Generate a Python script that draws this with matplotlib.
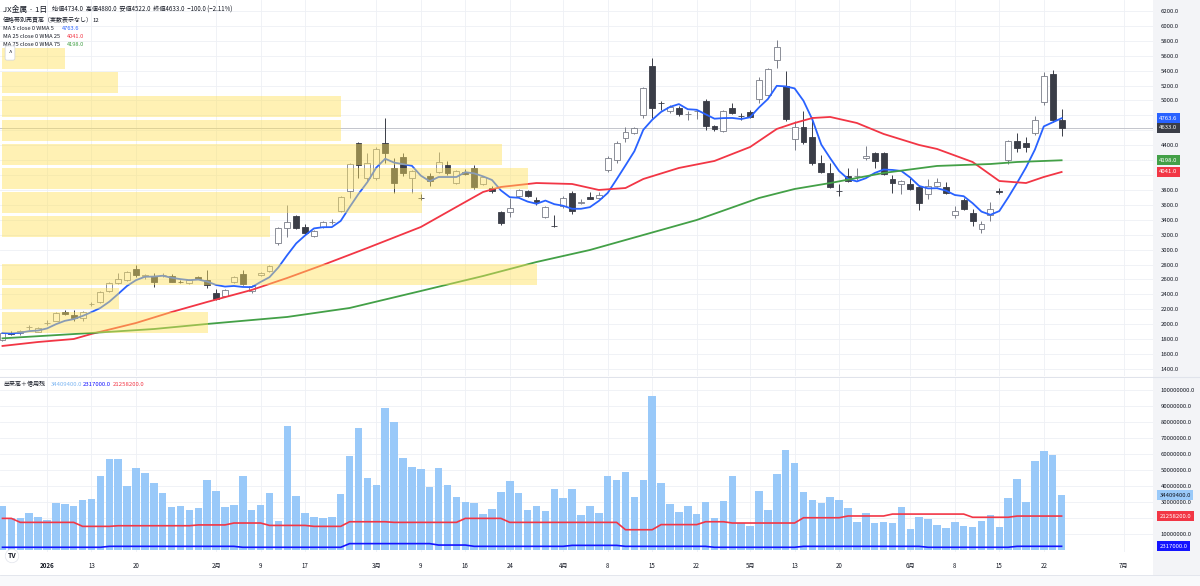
import numpy as np
import matplotlib
matplotlib.use("Agg")
import matplotlib.pyplot as plt
from matplotlib import transforms
from matplotlib.patches import Rectangle
import pandas as pd

plt.rcParams['font.family'] = ['Noto Sans CJK JP', 'DejaVu Sans']

# ---------------- data ----------------
opens = [1790, 1880, 1875, 1960, 1900, 2012, 2045, 2163, 2120, 2083,
         2265, 2298, 2445, 2553, 2593, 2740, 2640, 2647, 2655, 2650,
         2570, 2553, 2633, 2593, 2418, 2378, 2566, 2673, 2445, 2660,
         2714, 3089, 3290, 3450, 3303, 3183, 3303, 3365, 3518, 3786,
         4430, 3960, 3960, 4430, 4095, 4242, 3960, 3695, 3987, 4041,
         4135, 3893, 4041, 4095, 3880, 3826, 3504, 3504, 3719, 3786,
         3665, 3437, 3320, 3585, 3759, 3630, 3705, 3692, 4068, 4202,
         4497, 4564, 4805, 5462, 4970, 4859, 4899, 4815, 4855, 4993,
         4658, 4591, 4899, 4795, 4846, 5020, 5074, 5543, 5194, 4484,
         4644, 4510, 4162, 4028, 3790, 3987, 3985, 4229, 4296, 4296,
         3947, 3880, 3880, 3840, 3746, 3853, 3840, 3464, 3665, 3491,
         3276, 3464, 3780, 4202, 4457, 4430, 4564, 4980, 5355, 4734]
highs = [1895, 1905, 1925, 1990, 1960, 2055, 2160, 2190, 2190, 2175,
         2300, 2445, 2560, 2687, 2710, 2793, 2675, 2687, 2685, 2670,
         2595, 2610, 2650, 2727, 2470, 2475, 2645, 2727, 2525, 2705,
         2800, 3303, 3598, 3464, 3343, 3263, 3384, 3410, 3719, 4162,
         4443, 4296, 4376, 4765, 4229, 4296, 4068, 3740, 4028, 4309,
         4189, 4068, 4082, 4135, 3990, 3853, 3518, 3692, 3813, 3800,
         3700, 3590, 3464, 3719, 3780, 3678, 3773, 3773, 4256, 4457,
         4644, 4644, 5180, 5569, 4993, 4940, 4926, 4859, 4872, 5020,
         4671, 4872, 4966, 4832, 4872, 5314, 5436, 5811, 5395, 4725,
         4859, 4778, 4269, 4162, 3880, 4095, 4095, 4390, 4305, 4310,
         4000, 3933, 3960, 3870, 3947, 3960, 3907, 3585, 3692, 3545,
         3384, 3638, 3826, 4470, 4564, 4510, 4792, 5382, 5410, 4880]
lows = [1770, 1850, 1860, 1925, 1890, 1995, 2040, 2125, 2045, 2040,
        2240, 2290, 2430, 2540, 2585, 2633, 2610, 2500, 2630, 2560,
        2550, 2540, 2600, 2486, 2320, 2360, 2550, 2520, 2420, 2640,
        2700, 3063, 3170, 3276, 3200, 3170, 3290, 3343, 3504, 3692,
        3960, 3920, 3930, 4162, 3760, 3987, 3760, 3660, 3853, 4028,
        4000, 3880, 4000, 3813, 3860, 3760, 3330, 3437, 3700, 3700,
        3600, 3420, 3300, 3560, 3477, 3610, 3680, 3680, 4041, 4162,
        4443, 4550, 4765, 4765, 4870, 4832, 4792, 4738, 4752, 4604,
        4590, 4577, 4819, 4738, 4765, 4966, 5060, 5436, 4725, 4336,
        4416, 4135, 4028, 3826, 3719, 3907, 3933, 4202, 4095, 4000,
        3760, 3746, 3800, 3530, 3678, 3840, 3746, 3420, 3530, 3317,
        3223, 3384, 3740, 4148, 4310, 4310, 4537, 4940, 4712, 4522]
closes = [1882, 1868, 1910, 1966, 1950, 2020, 2150, 2137, 2083, 2163,
          2275, 2432, 2553, 2606, 2700, 2660, 2660, 2566, 2662, 2566,
          2566, 2593, 2606, 2526, 2338, 2459, 2633, 2539, 2512, 2687,
          2780, 3290, 3370, 3290, 3223, 3250, 3370, 3375, 3705, 4148,
          4135, 4162, 4350, 4296, 3893, 4028, 4055, 3690, 3920, 4175,
          4028, 4055, 4014, 3840, 3974, 3786, 3357, 3558, 3800, 3719,
          3640, 3571, 3317, 3692, 3518, 3640, 3680, 3732, 4229, 4430,
          4577, 4631, 5167, 4899, 4960, 4913, 4819, 4822, 4862, 4658,
          4617, 4859, 4832, 4790, 4778, 5275, 5422, 5717, 4752, 4644,
          4443, 4162, 4041, 3840, 3782, 3920, 3990, 4256, 4189, 4014,
          3893, 3920, 3813, 3625, 3853, 3907, 3759, 3518, 3544, 3384,
          3343, 3544, 3770, 4457, 4363, 4376, 4738, 5328, 4733, 4633]

# volume in millions of shares
volume_m = [27.6, 20.2, 20.2, 23.4, 20.7, 18.6, 29.4, 28.6, 27.8, 31.3,
            31.7, 46.5, 57.2, 57.2, 40.3, 51.1, 48.0, 41.7, 35.7, 26.7,
            27.6, 24.8, 26.3, 43.8, 36.9, 26.9, 28.2, 46.5, 25.0, 28.2,
            35.5, 18.0, 77.6, 33.6, 23.0, 20.7, 20.0, 20.5, 35.1, 58.7,
            76.4, 45.1, 40.7, 89.1, 79.9, 57.6, 52.0, 50.7, 39.4, 51.3,
            40.7, 33.2, 30.1, 29.2, 22.5, 25.7, 36.1, 43.2, 35.7, 25.0,
            27.6, 24.4, 38.2, 32.8, 38.4, 21.9, 27.3, 23.2, 46.5, 43.6,
            48.8, 33.0, 43.8, 96.4, 42.0, 29.0, 23.8, 27.3, 22.8, 30.3,
            20.0, 30.7, 46.3, 17.1, 15.0, 36.7, 25.0, 47.8, 62.4, 54.5,
            36.5, 31.5, 29.6, 33.2, 31.1, 26.3, 17.3, 23.2, 16.9, 17.5,
            16.9, 26.7, 13.4, 20.5, 19.4, 15.7, 13.8, 17.3, 15.0, 14.6,
            18.4, 21.7, 14.6, 32.8, 44.5, 30.3, 55.9, 62.2, 59.3, 34.4094]

# margin balances (millions), weekly values with the bar where each starts
buy_start = [0, 2, 9, 13, 22, 26, 30, 35, 39, 44, 52, 57, 70, 74, 79, 82, 90, 95, 100, 109, 114]
buy_val = [19.8, 17.3, 14.8, 15.2, 15.7, 16.9, 15.4, 14.8, 17.7, 17.3, 19.8, 17.3,
           12.7, 15.9, 17.7, 16.9, 20.2, 21.3, 22.5, 20.5, 21.2582]
sell_start = [0, 12, 27, 39, 49, 53, 64, 70, 80, 90, 104, 114]
sell_val = [1.7, 2.3, 1.7, 4.0, 3.1, 2.3, 2.9, 2.3, 1.7, 2.3, 1.7, 2.317]

# moving averages (bar index, value)
ma25_idx = [0, 4, 8, 10, 15, 19, 23, 28, 32, 36, 41, 47, 51, 54, 56, 60, 64, 67, 70, 72,
            76, 80, 84, 87, 89, 91, 93, 96, 99, 103, 105, 109, 112, 115, 117, 119]
ma25_val = [1708, 1761, 1801, 1869, 2016, 2163, 2298, 2459, 2620, 2794, 3022, 3303, 3572,
            3773, 3840, 3893, 3880, 3800, 3826, 3947, 4095, 4189, 4376, 4618, 4698, 4765,
            4779, 4698, 4551, 4403, 4350, 4175, 3920, 3893, 3974, 4041]
ma75_idx = [0, 10, 17, 23, 32, 39, 47, 54, 60, 66, 70, 78, 85, 89, 93, 99, 105, 111, 114, 119]
ma75_val = [1810, 1882, 1935, 2003, 2097, 2217, 2445, 2646, 2834, 2995, 3129, 3397, 3692,
            3813, 3893, 4028, 4122, 4148, 4175, 4198]

# volume profile (12 rows, bottom to top), relative volume
vp_low = 1882
vp_step = 322
vp_rel = [0.384, 0.218, 1.0, 0.0, 0.500, 0.785, 0.983, 0.934, 0.633, 0.633, 0.216, 0.117]

tick_idx = [5, 10, 15, 24, 29, 34, 42, 47, 52, 57, 63, 68, 73, 78, 84, 89, 94, 102, 107, 112, 117, 126]
tick_lbl = ['2026', '13', '20', '2月', '9', '17', '3月', '9', '16', '24', '4月', '8', '15', '22',
            '5月', '13', '20', '6月', '8', '15', '22', '7月']

price_ticks = [1400, 1600, 1800, 2000, 2200, 2400, 2600, 2800, 3000, 3200, 3400, 3600, 3800,
               4400, 5000, 5200, 5400, 5600, 5800, 6000, 6200]
vol_ticks_m = [10, 30, 40, 50, 60, 70, 80, 90, 100]
legend_ma = ['4763.6', '4041.0', '4198.0']

# ---------------- figure ----------------
W, H = 1200, 586
fig = plt.figure(figsize=(12, 5.86), dpi=100)
fig.patch.set_facecolor('white')


def box(x0, y0, x1, y1):
    return [x0 / W, 1 - y1 / H, (x1 - x0) / W, (y1 - y0) / H]


# right axis background
fig.patches.append(Rectangle((1153 / W, 1 - 575 / H), 47 / W, 575 / H,
                             transform=fig.transFigure, fc='#F3F4F7', ec='none', zorder=-5))
# bottom strip
fig.patches.append(Rectangle((0, 0), 1, 11 / H, transform=fig.transFigure,
                             fc='#F8F9FB', ec='none', zorder=-5))

ax = fig.add_axes(box(0, 0, 1153, 376))
axv = fig.add_axes(box(0, 378, 1153, 552))
ax.set_zorder(2)
axv.set_zorder(2)

n = len(closes)
idx = np.arange(n)
o = np.array(opens, float)
h = np.array(highs, float)
l = np.array(lows, float)
c = np.array(closes, float)

xl = (-0.28, 129.27)
grid_c = '#EEF0F5'

for a in (ax, axv):
    a.set_xlim(*xl)
    for s in a.spines.values():
        s.set_visible(False)
    a.set_xticks([])
    for t in tick_idx:
        a.axvline(t, color=grid_c, lw=0.6, zorder=0)

ax.set_ylim(1305, 6347.5)
for p in range(1400, 6201, 200):
    ax.axhline(p, color=grid_c, lw=0.6, zorder=0)

# last price line
ax.axhline(closes[-1], color='#C3C5CC', lw=0.7, zorder=1)

# candles
up = c >= o
up_col = '#7A7D88'
dn_col = '#3A3D47'
wick_cols = [up_col if u else dn_col for u in up]
ax.vlines(idx, l, h, colors=wick_cols, lw=0.7, zorder=2)
body_lo = np.minimum(o, c)
body_h = np.maximum(np.abs(c - o), 6)
ax.bar(idx, body_h, bottom=body_lo, width=0.66,
       color=['white' if u else dn_col for u in up],
       edgecolor=wick_cols, linewidth=0.6, zorder=3)

# moving averages
ma5 = pd.Series(c).rolling(5, min_periods=1).mean().values
ax.plot(idx, ma5, color='#2962FF', lw=1.3, zorder=4, solid_joinstyle='round')
ax.plot(ma25_idx, ma25_val, color='#F23645', lw=1.3, zorder=4, solid_joinstyle='round')
ax.plot(ma75_idx, ma75_val, color='#43A047', lw=1.3, zorder=4, solid_joinstyle='round')

# volume profile
vp_maxw = 60.06
for k, r in enumerate(vp_rel):
    if r <= 0:
        continue
    lo = vp_low + vp_step * k
    ax.add_patch(Rectangle((0, lo), r * vp_maxw, vp_step * 0.875,
                           fc='#FFE259', ec='none', alpha=0.45, zorder=6))

# right price axis
ax.yaxis.tick_right()
ax.set_yticks(price_ticks)
ax.set_yticklabels([f'{v:.1f}' for v in price_ticks])
ax.tick_params(axis='y', length=0, pad=5.5, labelsize=4.3, labelcolor='#131722')


def rlabel(a, val, text, fc, tc):
    a.annotate(text, xy=(1, val), xycoords=('axes fraction', 'data'),
               xytext=(4.6, 0), textcoords='offset points', ha='left', va='center',
               fontsize=4.3, color=tc, annotation_clip=False, zorder=10,
               bbox=dict(boxstyle='square,pad=0.45', fc=fc, ec='none'))


rlabel(ax, 4763.6, '4763.6', '#2962FF', 'white')
rlabel(ax, closes[-1], f'{closes[-1]:.1f}', '#3A3D47', 'white')
rlabel(ax, 4198.0, '4198.0', '#43A047', 'white')
rlabel(ax, 4041.0, '4041.0', '#F23645', 'white')

# volume panel
axv.set_ylim(-1.25, 107.7)
for v in range(10, 101, 10):
    axv.axhline(v, color=grid_c, lw=0.6, zorder=0)
axv.bar(idx, volume_m, width=0.84, color='#99C9F9', zorder=2)
buy_counts = np.diff(buy_start + [n])
sell_counts = np.diff(sell_start + [n])
buy_series = np.repeat(buy_val, buy_counts)
sell_series = np.repeat(sell_val, sell_counts)
axv.plot(idx, buy_series, color='#F23645', lw=1.2, zorder=3)
axv.plot(idx, sell_series, color='#1414FF', lw=1.2, zorder=3)

axv.yaxis.tick_right()
axv.set_yticks(vol_ticks_m)
axv.set_yticklabels([f'{v * 1e6:.1f}' for v in vol_ticks_m])
axv.tick_params(axis='y', length=0, pad=5.5, labelsize=4.3, labelcolor='#131722')
rlabel(axv, volume_m[-1], f'{volume_m[-1] * 1e6:.1f}', '#99C9F9', '#131722')
rlabel(axv, buy_val[-1], f'{buy_val[-1] * 1e6:.1f}', '#F23645', 'white')
rlabel(axv, sell_val[-1], f'{sell_val[-1] * 1e6:.1f}', '#1414FF', 'white')

# date labels
trans = transforms.blended_transform_factory(axv.transData, axv.transAxes)
for t, s in zip(tick_idx, tick_lbl):
    axv.text(t, -0.08, s, transform=trans, ha='center', va='center', fontsize=4.4,
             color='#131722', fontweight='bold' if s == '2026' else 'normal', clip_on=False)

# panel separators
fig.add_artist(plt.Line2D([0, 1], [1 - 377 / H, 1 - 377 / H], transform=fig.transFigure,
                          color='#E0E3EB', lw=0.8))
fig.add_artist(plt.Line2D([0, 1], [11 / H, 11 / H], transform=fig.transFigure,
                          color='#E0E3EB', lw=0.6))

# legends


def ft(x, y, s, **kw):
    fig.text(x / W, 1 - y / H, s, va='center', ha='left', zorder=20, **kw)


chg = closes[-1] - closes[-2]
pct = chg / closes[-2] * 100
ft(3, 10, 'JX金属 · 1日', fontsize=5.6, color='#131722')
ohlc = (f'始値{opens[-1]:.1f}  高値{highs[-1]:.1f}  安値{lows[-1]:.1f}  終値{closes[-1]:.1f}  '
        f'{chg:.1f} ({pct:.2f}%)').replace('-', '−')
ft(52, 10, ohlc, fontsize=4.4, color='#131722')
ft(3, 20, '価格帯別売買高（実数表示なし）', fontsize=4.3, color='#131722')
ft(92, 20, '12', fontsize=4.3, color='#131722')
ft(3, 28, 'MA 5 close 0 WMA 5', fontsize=4.1, color='#131722')
ft(62, 28, legend_ma[0], fontsize=4.1, color='#2962FF')
ft(3, 36, 'MA 25 close 0 WMA 25', fontsize=4.1, color='#131722')
ft(67, 36, legend_ma[1], fontsize=4.1, color='#F23645')
ft(3, 44, 'MA 75 close 0 WMA 75', fontsize=4.1, color='#131722')
ft(67, 44, legend_ma[2], fontsize=4.1, color='#43A047')
fig.text(10 / W, 1 - 53 / H, '^', ha='center', va='center', fontsize=4.5, color='#131722',
         bbox=dict(boxstyle='round,pad=0.5,rounding_size=0.3', fc='white', ec='#D1D4DC', lw=0.5),
         zorder=20)

ft(3, 384, '出来高＋信用残', fontsize=4.3, color='#131722')
ft(51, 384, f'{volume_m[-1] * 1e6:.1f}', fontsize=4.3, color='#7DB6F2')
ft(83, 384, f'{sell_val[-1] * 1e6:.1f}', fontsize=4.3, color='#1414FF')
ft(113, 384, f'{buy_val[-1] * 1e6:.1f}', fontsize=4.3, color='#F23645')

# logo
fig.text(12 / W, 1 - 556 / H, 'TV', ha='center', va='center', fontsize=5, fontweight='bold',
         color='#131722', bbox=dict(boxstyle='circle,pad=0.35', fc='white', ec='#E0E3EB', lw=0.5),
         zorder=20)

fig.savefig('out.png', dpi=100, facecolor='white')
